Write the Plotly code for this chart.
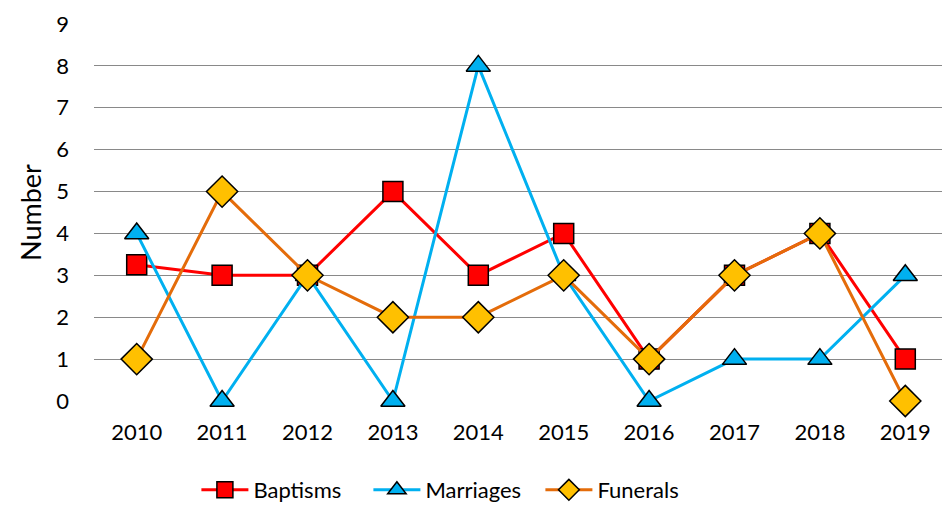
import plotly.graph_objects as go

years = ["2010", "2011", "2012", "2013", "2014", "2015", "2016", "2017", "2018", "2019"]
baptisms = [3.25, 3, 3, 5, 3, 4, 1, 3, 4, 1]
marriages = [4, 0, 3, 0, 8, 3, 0, 1, 1, 3]
funerals = [1, 5, 3, 2, 2, 3, 1, 3, 4, 0]
y_ticks = [0, 1, 2, 3, 4, 5, 6, 7, 8, 9]

FONT = "Lato, 'Open Sans', sans-serif"

fig = go.Figure()
fig.add_trace(go.Scatter(
    x=years, y=baptisms, name="Baptisms", mode="lines+markers", cliponaxis=False,
    line=dict(color="#FF0000", width=3),
    marker=dict(symbol="square", size=20, color="#FF0000", line=dict(color="#000000", width=1.5)),
))
fig.add_trace(go.Scatter(
    x=years, y=marriages, name="Marriages", mode="lines+markers", cliponaxis=False,
    line=dict(color="#00B0F0", width=3),
    marker=dict(symbol="triangle-up", size=21, color="#00B0F0", line=dict(color="#000000", width=1.5)),
))
fig.add_trace(go.Scatter(
    x=years, y=funerals, name="Funerals", mode="lines+markers", cliponaxis=False,
    line=dict(color="#E46C0A", width=3),
    marker=dict(symbol="diamond", size=24, color="#FFC000", line=dict(color="#000000", width=1.5)),
))

fig.update_layout(
    width=942, height=500,
    margin=dict(l=86, r=2, t=16, b=107),
    paper_bgcolor="white", plot_bgcolor="white",
    font=dict(family=FONT, size=22, color="#000000"),
    showlegend=True,
    legend=dict(orientation="h", x=0.2, xanchor="left", xref="container",
                y=0.036, yanchor="middle", yref="container",
                font=dict(size=22), itemwidth=47, entrywidth=110, tracegroupgap=0),
    xaxis=dict(type="category", range=[-0.5, 9.5], showgrid=False, showline=False,
               ticks="", tickfont=dict(size=22), automargin=False, ticklabelstandoff=16),
    yaxis=dict(range=[0, 9], tickvals=y_ticks, showgrid=True, gridcolor="#898989", gridwidth=1.4,
               zeroline=False, showline=False, ticks="", tickfont=dict(size=22),
               ticklabelstandoff=24, automargin=False,
               title=dict(text="Number", font=dict(size=27), standoff=6)),
)

fig.write_html("out.html")
